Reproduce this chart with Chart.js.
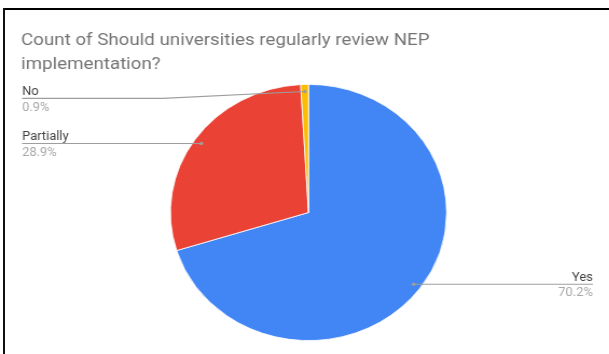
<!DOCTYPE html>
<html>
<head>
<meta charset="utf-8">
<script src="https://cdn.jsdelivr.net/npm/chart.js@4.4.1/dist/chart.umd.min.js"></script>
<style>
  html, body { margin: 0; padding: 0; background: #fff; overflow: hidden; }
  body { width: 609px; height: 354px; position: relative; }
  .heading {
    position: absolute; left: 13px; top: -25px; white-space: nowrap;
    font: bold 20px/20px "Liberation Serif", "Times New Roman", serif; color: #000;
  }
  .frame-top { position: absolute; left: 3px; top: 8px; width: 606px; height: 2px; background: #000; z-index: 2; }
  .frame-left { position: absolute; left: 3px; top: 8px; width: 2px; height: 346px; background: #111; z-index: 2; }
  .chart-box {
    position: absolute; left: 0; top: 0; width: 565px; height: 354px;
    transform: scaleX(1.078); transform-origin: 0 0;
  }
</style>
</head>
<body>
<div class="heading">Implementation of NEP in Higher Education Institutions</div>
<div class="frame-top"></div>
<div class="frame-left"></div>
<div class="chart-box"><canvas id="pie" width="565" height="354"></canvas></div>
<script>
/* ===== NEP review survey — pie of responses ===== */
const answers = ["Yes", "Partially", "No"];
const shares = [70.2, 28.9, 0.9];
const sliceColors = ["#4285F4", "#EA4335", "#FBBC04"];
const titleLines = ["Count of Should universities regularly review NEP", "implementation?"];

const labelFont = "12px Roboto, Arial, sans-serif";
const leftLabelX = 20.4;
const rightLabelX = 550;
const minLeaderY = 98.3;
const leaderBendX = 151;

// title + leader-line labels, drawn straight on the canvas
const calloutPlugin = {
  id: "callouts",
  afterDraw(chart) {
    const c = chart.ctx;
    c.save();
    c.fillStyle = "#757575";
    c.font = "17.4px Roboto, Arial, sans-serif";
    c.textAlign = "left";
    c.textBaseline = "alphabetic";
    c.fillText(titleLines[0], 19.5, 45);
    c.fillText(titleLines[1], 19.5, 69);

    const arcs = chart.getDatasetMeta(0).data;
    arcs.forEach((arc, i) => {
      const { x, y, startAngle, endAngle, outerRadius } = arc.getProps(["x", "y", "startAngle", "endAngle", "outerRadius"], true);
      const mid = (startAngle + endAngle) / 2;
      const px = x + Math.cos(mid) * outerRadius * 0.945;
      const py = y + Math.sin(mid) * outerRadius * 0.945;
      const right = Math.cos(mid) >= 0;

      c.strokeStyle = "#9e9e9e";
      c.lineWidth = 1.2;
      c.beginPath();
      let lineY = py;
      if (right) {
        c.moveTo(px, py);
        c.lineTo(rightLabelX, py);
      } else if (py < minLeaderY) {
        lineY = minLeaderY;
        c.moveTo(px, py);
        c.lineTo(leaderBendX, lineY);
        c.lineTo(leftLabelX, lineY);
      } else {
        c.moveTo(px, py);
        c.lineTo(leftLabelX, py);
      }
      c.stroke();

      c.fillStyle = "#9e9e9e";
      c.beginPath();
      c.arc(px, py, 1.8, 0, Math.PI * 2);
      c.fill();

      c.font = labelFont;
      c.textAlign = right ? "right" : "left";
      const tx = right ? rightLabelX : leftLabelX;
      c.fillStyle = "#444444";
      c.fillText(answers[i], tx, lineY - 3.5);
      c.fillStyle = "#a8a8a8";
      c.fillText(shares[i].toFixed(1) + "%", tx, lineY + 12.2);
    });
    c.restore();
  },
};

new Chart(document.getElementById("pie"), {
  type: "pie",
  data: {
    labels: answers,
    datasets: [{
      data: shares,
      backgroundColor: sliceColors,
      borderColor: "#ffffff",
      borderWidth: 0.8,
    }],
  },
  options: {
    responsive: false,
    animation: false,
    rotation: 0,
    layout: { padding: { left: 157.7, right: 150.3, top: 84, bottom: 13 } },
    plugins: {
      legend: { display: false },
      title: { display: false },
      tooltip: { enabled: false },
    },
  },
  plugins: [calloutPlugin],
});
</script>
</body>
</html>
